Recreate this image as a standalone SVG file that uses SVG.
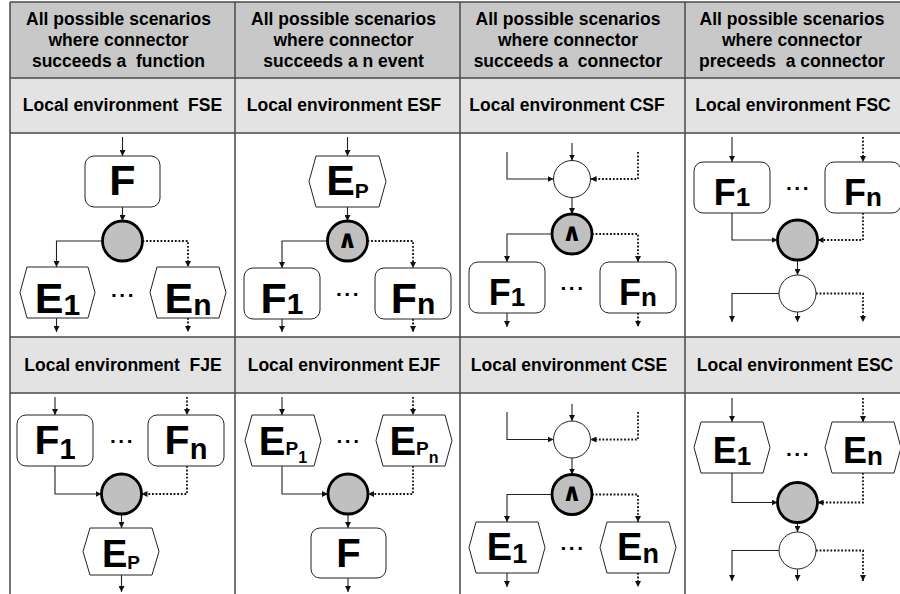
<svg xmlns="http://www.w3.org/2000/svg" width="900" height="594" viewBox="0 0 900 594">
  <defs>
    <marker id="ah" markerWidth="7" markerHeight="6" refX="6" refY="3" orient="auto" markerUnits="userSpaceOnUse">
      <path d="M0,0 L6,3 L0,6 Z" fill="#111"/>
    </marker>
  </defs>
  <style>
    .grid{stroke:#4a4a4a;stroke-width:1.5;fill:none}
    .hdr{fill:#c8c8c8}
    .env{fill:#e3e3e3}
    text{font-family:"Liberation Sans",Arial,sans-serif;font-weight:bold;fill:#000}
    .ht{font-size:17.5px;text-anchor:middle;white-space:pre}
    .lbl{text-anchor:middle}
    .sh{fill:#fff;stroke:#222;stroke-width:1}
    .xor{fill:#c0c0c0;stroke:#000;stroke-width:2.8}
    .or{fill:#fff;stroke:#222;stroke-width:1}
    .c{fill:none;stroke:#222;stroke-width:1.1;marker-end:url(#ah)}
    .d{fill:none;stroke:#111;stroke-width:1.8;stroke-dasharray:1.8 1.8;marker-end:url(#ah)}
    .dots{font-size:21px;text-anchor:middle;letter-spacing:2.5px}
    .and{font-family:"DejaVu Sans",sans-serif;font-size:25px;text-anchor:middle}
  </style>

  <!-- table background and grid -->
  <g id="table">
    <rect x="0" y="0" width="900" height="594" fill="#fff"/>
    <rect class="hdr" x="10" y="2" width="895" height="76"/>
    <rect class="env" x="10" y="78" width="895" height="55"/>
    <rect class="env" x="10" y="337" width="895" height="56"/>
    <path class="grid" d="M10,2 H900 M10,78 H900 M10,133 H900 M10,337 H900 M10,393 H900 M10,2 V594 M235,2 V594 M460,2 V594 M685,2 V594"/>
    <text class="ht" x="118.5" y="25">All possible scenarios</text>
    <text class="ht" x="118.5" y="46">where connector</text>
    <text class="ht" x="118.5" y="67">succeeds a  function</text>
    <text class="ht" x="343.5" y="25">All possible scenarios</text>
    <text class="ht" x="343.5" y="46">where connector</text>
    <text class="ht" x="343.5" y="67">succeeds a n event</text>
    <text class="ht" x="568" y="25">All possible scenarios</text>
    <text class="ht" x="568" y="46">where connector</text>
    <text class="ht" x="568" y="67">succeeds a  connector</text>
    <text class="ht" x="792" y="25">All possible scenarios</text>
    <text class="ht" x="792" y="46">where connector</text>
    <text class="ht" x="792" y="67">preceeds  a connector</text>
    <text class="ht" x="122.5" y="111">Local environment  FSE</text>
    <text class="ht" x="344" y="111">Local environment ESF</text>
    <text class="ht" x="567" y="111">Local environment CSF</text>
    <text class="ht" x="793" y="111">Local environment FSC</text>
    <text class="ht" x="123" y="370.5">Local environment  FJE</text>
    <text class="ht" x="344" y="370.5">Local environment EJF</text>
    <text class="ht" x="569" y="370.5">Local environment CSE</text>
    <text class="ht" x="795" y="370.5">Local environment ESC</text>
  </g>

  <!-- connectors -->
  <g id="connectors">
    <!-- FSE -->
    <path class="c" d="M122.5,137 V156"/>
    <path class="c" d="M122.5,207 V221"/>
    <path class="c" d="M102.5,241 H56.5 V267"/>
    <path class="d" d="M142.5,241 H188 V267"/>
    <path class="c" d="M56.5,318 V332"/>
    <path class="d" d="M188,318 V332"/>
    <!-- ESF -->
    <path class="c" d="M347.5,137 V156"/>
    <path class="c" d="M347.5,207 V221"/>
    <path class="c" d="M327.5,241 H282 V268"/>
    <path class="d" d="M367.5,241 H413 V268"/>
    <path class="c" d="M282,319 V332"/>
    <path class="d" d="M413,319 V332"/>
    <!-- CSF -->
    <path class="c" d="M572,143 V160.5"/>
    <path class="c" d="M507,152 V179 H553.5"/>
    <path class="d" d="M638,152 V179 H590.5"/>
    <path class="c" d="M572,197.5 V214"/>
    <path class="c" d="M552,234 H507 V262"/>
    <path class="d" d="M592,234 H638 V262"/>
    <path class="c" d="M507,313 V327"/>
    <path class="d" d="M638,313 V327"/>
    <!-- FSC -->
    <path class="c" d="M732,137 V162"/>
    <path class="d" d="M863,137 V162"/>
    <path class="c" d="M732,213 V240 H777.5"/>
    <path class="d" d="M863,213 V240 H817.5"/>
    <path class="c" d="M797.5,260 V275"/>
    <path class="c" d="M779,293.5 H732 V322"/>
    <path class="c" d="M797.5,312 V322"/>
    <path class="d" d="M816,293.5 H863 V322"/>
    <!-- FJE -->
    <path class="c" d="M55,397 V415"/>
    <path class="d" d="M187,397 V415"/>
    <path class="c" d="M55,466 V494 H101.5"/>
    <path class="d" d="M187,466 V494 H141.5"/>
    <path class="c" d="M121.5,514 V528"/>
    <path class="c" d="M121.5,575 V592"/>
    <!-- EJF -->
    <path class="c" d="M282,397 V415"/>
    <path class="d" d="M413,397 V415"/>
    <path class="c" d="M282,466 V494 H328"/>
    <path class="d" d="M413,466 V494 H368"/>
    <path class="c" d="M348,514 V528"/>
    <path class="c" d="M348,578 V592"/>
    <!-- CSE -->
    <path class="c" d="M572,404 V421"/>
    <path class="c" d="M507,412 V439.5 H553.5"/>
    <path class="d" d="M638,412 V439.5 H590.5"/>
    <path class="c" d="M572,458 V474.5"/>
    <path class="c" d="M552,494.5 H507 V522"/>
    <path class="d" d="M592,494.5 H638 V522"/>
    <path class="c" d="M507,573 V587"/>
    <path class="d" d="M638,573 V587"/>
    <!-- ESC -->
    <path class="c" d="M732,398 V422"/>
    <path class="d" d="M863,398 V422"/>
    <path class="c" d="M732,473 V502.5 H777.5"/>
    <path class="d" d="M863,473 V502.5 H817.5"/>
    <path class="c" d="M797.5,522.5 V532"/>
    <path class="c" d="M779,550.5 H732 V581"/>
    <path class="c" d="M797.5,569 V581"/>
    <path class="d" d="M816,550.5 H863 V581"/>
  </g>

  <!-- FSE -->
  <g id="fse-f">
    <rect class="sh" x="85" y="156" width="75" height="51" rx="9"/>
    <text class="lbl" x="122.5" y="195" font-size="43">F</text>
  </g>
  <g id="fse-xor"><circle class="xor" cx="122.5" cy="241" r="20"/></g>
  <g id="fse-e1">
    <polygon class="sh" points="27,267 88,267 95,292.5 88,318 27,318 20,292.5"/>
    <text class="lbl" x="57.5" y="312.5" font-size="43">E<tspan font-size="30" dy="2">1</tspan></text>
  </g>
  <g id="fse-en">
    <polygon class="sh" points="157,267 219,267 226,292.5 219,318 157,318 150,292.5"/>
    <text class="lbl" x="188" y="312.5" font-size="43">E<tspan font-size="30" dy="2">n</tspan></text>
  </g>
  <text class="dots" x="123.5" y="297">...</text>

  <!-- ESF -->
  <g id="esf-ep">
    <polygon class="sh" points="316,156 379,156 386,181.5 379,207 316,207 309,181.5"/>
    <text class="lbl" x="347.5" y="195" font-size="43">E<tspan font-size="21" dy="3">P</tspan></text>
  </g>
  <g id="esf-and">
    <circle class="xor" cx="347.5" cy="241" r="20"/>
    <text class="and" x="347.5" y="247.5">∧</text>
  </g>
  <g id="esf-f1">
    <rect class="sh" x="244" y="268" width="76" height="51" rx="9"/>
    <text class="lbl" x="282" y="312.5" font-size="43">F<tspan font-size="30" dy="1">1</tspan></text>
  </g>
  <g id="esf-fn">
    <rect class="sh" x="375" y="268" width="76" height="51" rx="9"/>
    <text class="lbl" x="413" y="312.5" font-size="43">F<tspan font-size="30" dy="1">n</tspan></text>
  </g>
  <text class="dots" x="348.5" y="296">...</text>

  <!-- CSF -->
  <g id="csf-or"><circle class="or" cx="572" cy="179" r="18.5"/></g>
  <g id="csf-and">
    <circle class="xor" cx="572" cy="234" r="20"/>
    <text class="and" x="572" y="240.5">∧</text>
  </g>
  <g id="csf-f1">
    <rect class="sh" x="469" y="262" width="76" height="51" rx="9"/>
    <text class="lbl" x="507" y="305" font-size="36">F<tspan font-size="26" dy="1">1</tspan></text>
  </g>
  <g id="csf-fn">
    <rect class="sh" x="600" y="262" width="76" height="51" rx="9"/>
    <text class="lbl" x="638" y="305" font-size="36">F<tspan font-size="26" dy="1">n</tspan></text>
  </g>
  <text class="dots" x="573" y="290">...</text>

  <!-- FSC -->
  <g id="fsc-f1">
    <rect class="sh" x="694" y="162" width="76" height="51" rx="9"/>
    <text class="lbl" x="732" y="205" font-size="36">F<tspan font-size="26" dy="1">1</tspan></text>
  </g>
  <g id="fsc-fn">
    <rect class="sh" x="825" y="162" width="76" height="51" rx="9"/>
    <text class="lbl" x="863" y="205" font-size="36">F<tspan font-size="26" dy="1">n</tspan></text>
  </g>
  <text class="dots" x="798.5" y="190">...</text>
  <g id="fsc-xor"><circle class="xor" cx="797.5" cy="240" r="20"/></g>
  <g id="fsc-or"><circle class="or" cx="797.5" cy="293.5" r="18.5"/></g>

  <!-- FJE -->
  <g id="fje-f1">
    <rect class="sh" x="17" y="415" width="76" height="51" rx="9"/>
    <text class="lbl" x="55" y="454" font-size="41">F<tspan font-size="29" dy="5">1</tspan></text>
  </g>
  <g id="fje-fn">
    <rect class="sh" x="148" y="415" width="76" height="51" rx="9"/>
    <text class="lbl" x="186" y="454" font-size="41">F<tspan font-size="29" dy="5">n</tspan></text>
  </g>
  <text class="dots" x="122.5" y="443">...</text>
  <g id="fje-xor"><circle class="xor" cx="121.5" cy="494" r="20"/></g>
  <g id="fje-ep">
    <polygon class="sh" points="90,528 152,528 159,551.5 152,575 90,575 83,551.5"/>
    <text class="lbl" x="121" y="567" font-size="38">E<tspan font-size="19" dy="2">P</tspan></text>
  </g>

  <!-- EJF -->
  <g id="ejf-ep1">
    <polygon class="sh" points="252,415 314,415 321,440.5 314,466 252,466 245,440.5"/>
    <text class="lbl" x="283" y="455" font-size="40">E<tspan font-size="19">P</tspan><tspan font-size="16" dy="8">1</tspan></text>
  </g>
  <g id="ejf-epn">
    <polygon class="sh" points="383,415 445,415 452,440.5 445,466 383,466 376,440.5"/>
    <text class="lbl" x="414" y="455" font-size="40">E<tspan font-size="19">P</tspan><tspan font-size="16" dy="8">n</tspan></text>
  </g>
  <text class="dots" x="349" y="443">...</text>
  <g id="ejf-xor"><circle class="xor" cx="348" cy="494" r="20"/></g>
  <g id="ejf-f">
    <rect class="sh" x="311" y="528" width="75" height="50" rx="9"/>
    <text class="lbl" x="348.5" y="566.7" font-size="40">F</text>
  </g>

  <!-- CSE -->
  <g id="cse-or"><circle class="or" cx="572" cy="439.5" r="18.5"/></g>
  <g id="cse-and">
    <circle class="xor" cx="572" cy="494.5" r="20"/>
    <text class="and" x="572" y="501">∧</text>
  </g>
  <g id="cse-e1">
    <polygon class="sh" points="476,522 538,522 545,547.5 538,573 476,573 469,547.5"/>
    <text class="lbl" x="507" y="560" font-size="38">E<tspan font-size="27" dy="3">1</tspan></text>
  </g>
  <g id="cse-en">
    <polygon class="sh" points="607,522 669,522 676,547.5 669,573 607,573 600,547.5"/>
    <text class="lbl" x="638" y="560" font-size="38">E<tspan font-size="27" dy="3">n</tspan></text>
  </g>
  <text class="dots" x="573" y="550">...</text>

  <!-- ESC -->
  <g id="esc-e1">
    <polygon class="sh" points="701,422 763,422 770,447.5 763,473 701,473 694,447.5"/>
    <text class="lbl" x="732" y="463.3" font-size="36">E<tspan font-size="26" dy="2">1</tspan></text>
  </g>
  <g id="esc-en">
    <polygon class="sh" points="832,422 894,422 901,447.5 894,473 832,473 825,447.5"/>
    <text class="lbl" x="863" y="463.3" font-size="36">E<tspan font-size="26" dy="2">n</tspan></text>
  </g>
  <text class="dots" x="798.5" y="456">...</text>
  <g id="esc-xor"><circle class="xor" cx="797.5" cy="502.5" r="20"/></g>
  <g id="esc-or"><circle class="or" cx="797.5" cy="550.5" r="18.5"/></g>
</svg>
